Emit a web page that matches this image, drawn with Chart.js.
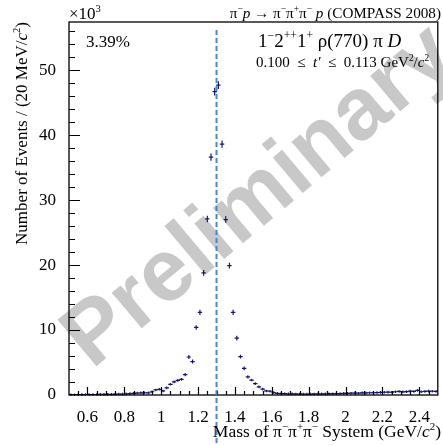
<!DOCTYPE html>
<html>
<head>
<meta charset="utf-8">
<script src="https://cdn.jsdelivr.net/npm/chart.js@4.4.1/dist/chart.umd.min.js"></script>
<style>
  html, body { margin: 0; padding: 0; background: #fff; }
  canvas { display: block; }
</style>
</head>
<body>
<canvas id="c" width="443" height="445"></canvas>
<script>
// Bin centres of the 3-pion mass spectrum (GeV/c^2), 20 MeV bins
const massBins = [
  0.51, 0.53, 0.55, 0.57, 0.59, 0.61, 0.63, 0.65, 0.67, 0.69,
  0.71, 0.73, 0.75, 0.77, 0.79, 0.81, 0.83, 0.85, 0.87, 0.89,
  0.91, 0.93, 0.95, 0.97, 0.99, 1.01, 1.03, 1.05, 1.07, 1.09,
  1.11, 1.13, 1.15, 1.17, 1.19, 1.21, 1.23, 1.25, 1.27, 1.29,
  1.31, 1.33, 1.35, 1.37, 1.39, 1.41, 1.43, 1.45, 1.47, 1.49,
  1.51, 1.53, 1.55, 1.57, 1.59, 1.61, 1.63, 1.65, 1.67, 1.69,
  1.71, 1.73, 1.75, 1.77, 1.79, 1.81, 1.83, 1.85, 1.87, 1.89,
  1.91, 1.93, 1.95, 1.97, 1.99, 2.01, 2.03, 2.05, 2.07, 2.09,
  2.11, 2.13, 2.15, 2.17, 2.19, 2.21, 2.23, 2.25, 2.27, 2.29,
  2.31, 2.33, 2.35, 2.37, 2.39, 2.41, 2.43, 2.45, 2.47, 2.49
];

// Partial-wave intensity per bin, in units of 10^3 events
const eventsK = [
  0.05, 0.05, 0.06, 0.06, 0.07, 0.07, 0.08, 0.08, 0.09, 0.09,
  0.10, 0.11, 0.12, 0.13, 0.15, 0.18, 0.22, 0.26, 0.30, 0.33,
  0.35, 0.32, 0.50, 0.78, 0.88, 0.62, 1.10, 1.65, 2.02, 2.25,
  2.40, 3.15, 5.85, 5.15, 10.4, 12.7, 18.8, 27.1, 36.6, 46.7,
  47.7, 38.6, 27.0, 19.9, 12.7, 8.75, 5.90, 4.10, 2.80, 2.30,
  1.75, 1.25, 0.90, 0.62, 0.58, 0.38, 0.25, 0.22, 0.20, 0.18,
  0.17, 0.16, 0.15, 0.15, 0.15, 0.15, 0.16, 0.17, 0.18, 0.18,
  0.20, 0.20, 0.22, 0.22, 0.25, 0.25, 0.28, 0.30, 0.28, 0.32,
  0.33, 0.35, 0.35, 0.38, 0.40, 0.42, 0.45, 0.42, 0.50, 0.55,
  0.48, 0.52, 0.60, 0.55, 0.70, 0.50, 0.55, 0.60, 0.58, 0.55
];

// Statistical uncertainty per bin (10^3 events)
const errorsK = [
  0.2, 0.2, 0.2, 0.2, 0.2, 0.2, 0.2, 0.2, 0.2, 0.2,
  0.2, 0.2, 0.2, 0.2, 0.2, 0.2, 0.2, 0.2, 0.2, 0.2,
  0.2, 0.2, 0.2, 0.2, 0.2, 0.2, 0.2, 0.2, 0.2, 0.2,
  0.2, 0.25, 0.3, 0.3, 0.35, 0.4, 0.45, 0.5, 0.55, 0.6,
  0.6, 0.55, 0.5, 0.45, 0.4, 0.35, 0.3, 0.3, 0.25, 0.2,
  0.2, 0.2, 0.2, 0.2, 0.2, 0.2, 0.2, 0.2, 0.2, 0.2,
  0.2, 0.2, 0.2, 0.2, 0.2, 0.2, 0.2, 0.2, 0.2, 0.2,
  0.2, 0.2, 0.2, 0.2, 0.2, 0.2, 0.2, 0.2, 0.2, 0.2,
  0.2, 0.2, 0.2, 0.2, 0.2, 0.2, 0.2, 0.2, 0.2, 0.2,
  0.2, 0.2, 0.2, 0.2, 0.2, 0.2, 0.2, 0.2, 0.2, 0.2
];

const xTickValues = [0.6, 0.8, 1.0, 1.2, 1.4, 1.6, 1.8, 2.0, 2.2, 2.4];
const yTickValues = [0, 10, 20, 30, 40, 50];
const resonanceMass = 1.3;         // marker line, GeV/c^2
const waveFraction = '3.39%';

const SERIF = '"Liberation Serif", "Times New Roman", serif';
const INK = '#000';
const POINT_COLOR = '#16166e';
const EN = '\u2002';

// Draws a run of text pieces with optional italic / superscript styling.
// Each piece: [text, flags] where flags may contain 'i' (italic) and 's' (superscript).
function richWidth(ctx, pieces, size) {
  let w = 0;
  for (const [t, f = ''] of pieces) {
    const sz = f.includes('s') ? size * 0.62 : size;
    ctx.font = (f.includes('i') ? 'italic ' : '') + sz + 'px ' + SERIF;
    w += ctx.measureText(t).width;
  }
  return w;
}
function drawRich(ctx, pieces, x, y, size, align) {
  const total = richWidth(ctx, pieces, size);
  let cx = align === 'right' ? x - total : align === 'center' ? x - total / 2 : x;
  ctx.textAlign = 'left';
  ctx.textBaseline = 'alphabetic';
  ctx.fillStyle = INK;
  for (const [t, f = ''] of pieces) {
    const sup = f.includes('s');
    const sz = sup ? size * 0.62 : size;
    ctx.font = (f.includes('i') ? 'italic ' : '') + sz + 'px ' + SERIF;
    ctx.fillText(t, cx, sup ? y - size * 0.4 : y);
    cx += ctx.measureText(t).width;
  }
}

const decor = {
  id: 'decor',
  beforeDraw(chart) {
    const { ctx } = chart;
    ctx.save();
    ctx.fillStyle = '#fff';
    ctx.fillRect(0, 0, chart.width, chart.height);
    ctx.restore();
  },
  beforeDatasetsDraw(chart) {
    // "Preliminary" stamp across the plot
    const { ctx } = chart;
    ctx.save();
    ctx.translate(92, 370);
    ctx.rotate(-40 * Math.PI / 180);
    ctx.font = 'bold 88px "Liberation Sans", Arial, sans-serif';
    ctx.fillStyle = 'rgb(200,200,200)';
    ctx.textAlign = 'left';
    ctx.textBaseline = 'alphabetic';
    ctx.fillText('Preliminary', 0, 0);
    ctx.restore();
  },
  afterDatasetsDraw(chart) {
    const { ctx, chartArea: a } = chart;
    const xs = chart.scales.x, ys = chart.scales.y;
    ctx.save();

    // vertical error bars
    ctx.strokeStyle = POINT_COLOR;
    ctx.lineWidth = 1.2;
    ctx.beginPath();
    massBins.forEach((m, i) => {
      const px = xs.getPixelForValue(m);
      ctx.moveTo(px, ys.getPixelForValue(eventsK[i] - errorsK[i]));
      ctx.lineTo(px, ys.getPixelForValue(eventsK[i] + errorsK[i]));
    });
    ctx.stroke();

    // frame
    ctx.strokeStyle = INK;
    ctx.lineWidth = 1.3;
    ctx.strokeRect(a.left, a.top, a.right - a.left, a.bottom - a.top);

    // inward ticks on the left axis
    ctx.lineWidth = 1.2;
    ctx.beginPath();
    for (let v = 2; v < ys.max; v += 2) {
      const py = Math.round(ys.getPixelForValue(v)) + 0.5;
      const len = (v % 10 === 0) ? 11 : 6;
      ctx.moveTo(a.left, py);
      ctx.lineTo(a.left + len, py);
    }
    // inward ticks on the bottom axis
    for (let k = 11; k < 50; k++) {
      const v = k * 0.05;
      const px = Math.round(xs.getPixelForValue(v)) + 0.5;
      const len = (k % 4 === 0) ? 8 : 4;
      ctx.moveTo(px, a.bottom);
      ctx.lineTo(px, a.bottom - len);
    }
    ctx.stroke();

    // resonance marker
    const mx = xs.getPixelForValue(resonanceMass);
    ctx.strokeStyle = '#4a86c8';
    ctx.lineWidth = 2;
    ctx.setLineDash([5, 3]);
    ctx.beginPath();
    ctx.moveTo(mx, a.top + 8);
    ctx.lineTo(mx, chart.height);
    ctx.stroke();
    ctx.setLineDash([]);

    // annotations
    drawRich(ctx, [['\u00d710'], ['3', 's']], a.left, 19, 17, 'left');
    drawRich(ctx, [
      ['\u03c0'], ['\u2212', 's'], ['p', 'i'], [' \u2192 \u03c0'], ['\u2212', 's'],
      ['\u03c0'], ['+', 's'], ['\u03c0'], ['\u2212', 's'], [' '], ['p', 'i'],
      [' (COMPASS 2008)']
    ], 441, 18, 15.2, 'right');
    drawRich(ctx, [[waveFraction]], 86, 47, 17, 'left');
    drawRich(ctx, [
      ['1'], ['\u2212', 's'], ['2'], ['++', 's'], ['1'], ['+', 's'],
      [' \u03c1(770) \u03c0 '], ['D', 'i']
    ], 258, 47, 19, 'left');
    drawRich(ctx, [
      ['0.100' + EN + '\u2264' + EN], ['t\u2032', 'i'], [EN + '\u2264' + EN + '0.113 GeV'], ['2', 's'],
      ['/'], ['c', 'i'], ['2', 's']
    ], 256, 67, 15, 'left');

    // axis titles
    drawRich(ctx, [
      ['Mass of \u03c0'], ['\u2212', 's'], ['\u03c0'], ['+', 's'], ['\u03c0'], ['\u2212', 's'],
      [' System (GeV/'], ['c', 'i'], ['2', 's'], [')']
    ], 441, 437, 17.5, 'right');
    ctx.save();
    ctx.translate(27, a.top);
    ctx.rotate(-Math.PI / 2);
    drawRich(ctx, [
      ['Number of Events / (20 MeV/'], ['c', 'i'], ['2', 's'], [')']
    ], 0, 0, 17, 'right');
    ctx.restore();

    ctx.restore();
  }
};

new Chart(document.getElementById('c').getContext('2d'), {
  type: 'scatter',
  data: {
    datasets: [{
      data: massBins.map((m, i) => ({ x: m, y: eventsK[i] })),
      pointStyle: 'line',
      pointRadius: 2.2,
      borderColor: POINT_COLOR,
      backgroundColor: POINT_COLOR,
      borderWidth: 1.2,
      showLine: false
    }]
  },
  options: {
    responsive: false,
    animation: false,
    devicePixelRatio: 1,
    layout: { padding: { left: 0, right: 4, top: 22, bottom: 0 } },
    plugins: { legend: { display: false }, tooltip: { enabled: false }, title: { display: false } },
    scales: {
      x: {
        type: 'linear', min: 0.5, max: 2.5,
        grid: { display: false }, border: { display: false },
        afterBuildTicks: s => { s.ticks = xTickValues.map(v => ({ value: v })); },
        afterFit: s => { s.height = 50; },
        ticks: {
          font: { family: SERIF, size: 17 }, color: INK, padding: 4,
          maxRotation: 0, autoSkip: false,
          callback: v => String(+Number(v).toFixed(1))
        }
      },
      y: {
        type: 'linear', min: 0, max: 57.4,
        grid: { display: false }, border: { display: false },
        afterBuildTicks: s => { s.ticks = yTickValues.map(v => ({ value: v })); },
        afterFit: s => { s.width = 69; },
        ticks: {
          font: { family: SERIF, size: 17 }, color: INK, padding: 5,
          autoSkip: false, callback: v => String(v)
        }
      }
    }
  },
  plugins: [decor]
});
</script>
</body>
</html>
